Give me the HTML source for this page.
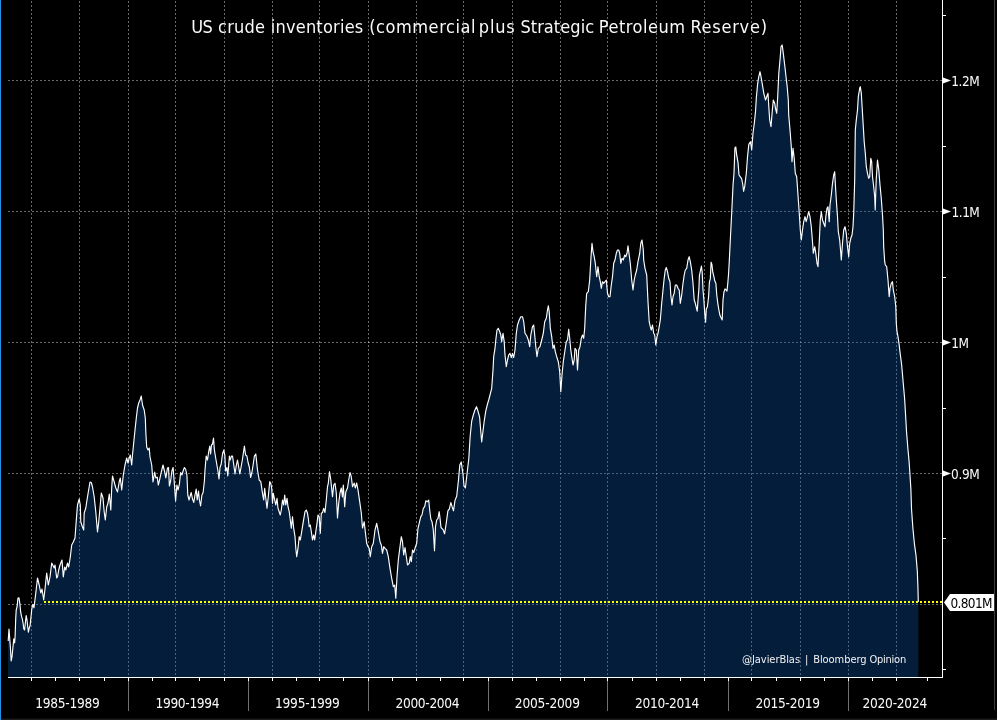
<!DOCTYPE html><html><head><meta charset="utf-8"><style>html,body{margin:0;padding:0;background:#000;width:997px;height:720px;overflow:hidden}svg{display:block}text{font-family:"DejaVu Sans Condensed","DejaVu Sans","Liberation Sans",sans-serif;font-stretch:condensed}</style></head><body>
<svg width="997" height="720" viewBox="0 0 997 720">
<rect width="997" height="720" fill="#000"/>
<g stroke="rgba(255,255,255,0.42)" stroke-width="1" stroke-dasharray="2 2"><line x1="8" y1="80.5" x2="942" y2="80.5"/><line x1="8" y1="211.5" x2="942" y2="211.5"/><line x1="8" y1="342.5" x2="942" y2="342.5"/><line x1="8" y1="473.5" x2="942" y2="473.5"/><line x1="8" y1="604.5" x2="942" y2="604.5"/><line x1="31.5" y1="1" x2="31.5" y2="677"/><line x1="79.5" y1="1" x2="79.5" y2="677"/><line x1="128.5" y1="1" x2="128.5" y2="677"/><line x1="175.5" y1="1" x2="175.5" y2="677"/><line x1="224.5" y1="1" x2="224.5" y2="677"/><line x1="272.5" y1="1" x2="272.5" y2="677"/><line x1="319.5" y1="1" x2="319.5" y2="677"/><line x1="368.5" y1="1" x2="368.5" y2="677"/><line x1="416.5" y1="1" x2="416.5" y2="677"/><line x1="463.5" y1="1" x2="463.5" y2="677"/><line x1="512.5" y1="1" x2="512.5" y2="677"/><line x1="560.5" y1="1" x2="560.5" y2="677"/><line x1="607.5" y1="1" x2="607.5" y2="677"/><line x1="656.5" y1="1" x2="656.5" y2="677"/><line x1="704.5" y1="1" x2="704.5" y2="677"/><line x1="751.5" y1="1" x2="751.5" y2="677"/><line x1="800.5" y1="1" x2="800.5" y2="677"/><line x1="848.5" y1="1" x2="848.5" y2="677"/><line x1="896.5" y1="1" x2="896.5" y2="677"/></g>
<path d="M8,677 L8,641 8.2,641 L9,629 L9.6,636.7 L10.4,647.8 L11.2,661 L12,656.7 L12.9,647.8 L13.8,638.9 L14.6,643 L15.1,636.7 L15.7,618.9 L16.2,610 L17.1,606.7 L17.9,598.3 L19,597.8 L19.8,603.3 L20.7,612.2 L21.6,616.7 L22.3,618.9 L23.1,623.3 L23.8,628.9 L24.6,630 L25.3,623.3 L26.2,615.6 L27,620 L27.6,625.6 L28.4,632.2 L29.3,627.8 L30.1,625.6 L30.9,617.8 L31.8,608.9 L32.9,604.4 L34,607.8 L35.8,593 L37.5,578 L39.2,585 L40.8,593 L42,589 L43.7,600 L45,589 L46.7,573 L48.3,585 L50,577 L51.7,563 L54.2,568 L55,565 L56.7,578 L57.5,577 L58.7,570 L60,565 L62,560 L63.3,577 L64.7,567 L65.8,570 L67.5,563 L68.7,567 L70.3,557 L71.7,545 L73.3,542 L75,538 L76.3,520 L77.5,505 L79.2,499 L80.3,505 L80.8,522 L82.5,527 L83.7,530 L84.2,513 L85.8,508 L87,500 L88.3,492 L90,482 L91.3,482.5 L92.5,487 L94.2,497 L95.8,512 L97.5,532 L98.7,522 L100,508 L101.3,493 L103,498 L104.2,512 L105.3,520 L106.7,507 L108,503 L109.3,494 L110.8,510 L111.7,488 L112.5,476 L114.2,482 L115.8,488 L117.5,492 L119.2,482 L120.3,478 L121.7,490 L123.3,475 L125,465 L126.7,458 L128,463 L129.2,458 L130.3,455 L131.7,465 L132.5,455 L133.7,443 L135,430 L136.3,418 L137.5,408 L138.7,403 L140,400 L141.3,396 L142.5,405 L144.2,410 L145.3,418 L145.8,432 L146.7,447 L148,450 L149.2,448 L150,457 L151.7,465 L153,482 L154.7,472 L155.8,478 L157.2,477 L158.3,485 L160,478 L161.3,472 L163,465 L164.7,472 L165.8,478 L167.5,468 L168.5,467.5 L169.4,486 L170.6,481 L171.9,471 L173.1,467.5 L174,479 L175.6,501 L176.9,485 L178.1,490 L179.4,484 L180.6,472.5 L181.9,475 L183.1,471 L184.4,467.5 L185.6,469 L186.9,475 L187.8,495 L189,500 L190.2,496 L191.2,492.5 L192.5,499 L193.8,502.5 L195,495 L196.2,489 L197.2,500 L198.5,491 L199.4,500 L200.6,506 L201.9,495 L203.1,492.5 L204.4,481 L205,470 L206.2,456 L207.5,460 L208.8,451 L209.8,446 L210.6,454 L211.5,445 L212.5,444 L213.5,438 L214.4,450 L215.6,457.5 L216.9,465 L217.8,470 L219,479 L220,467.5 L221.2,464 L222.5,454 L223.8,450 L224.8,455 L225.6,471 L226.9,467.5 L227.8,476 L228.5,467.5 L229.4,456 L230.2,460 L231.5,456 L232.5,456 L233.8,465 L235,474 L236.2,466 L237.5,460 L238.5,466 L239.8,474 L241,467.5 L242.5,459 L244.4,446 L245.6,455 L246.9,456 L248.1,462.5 L249.4,467.5 L250.6,477.5 L251.9,472.5 L253.1,465 L254.4,456 L255.8,454 L257.5,470 L259.2,480 L260.8,481.7 L262.5,493.3 L263.7,500 L264.7,488.3 L265.8,498.3 L267,508.3 L268.3,496.7 L269.7,481.7 L270.8,483.3 L271.7,488.3 L272.5,503.3 L273.3,493.3 L274.7,500 L275.8,505 L277,498.3 L278,508.3 L279.2,511.7 L280.3,515 L281.3,510 L282.5,500 L283.7,505 L284.7,495 L285.8,505 L287,498.3 L288,506.7 L289.2,511.7 L290.3,520 L291.3,528.3 L292.5,516.7 L293.7,528.3 L295,536.7 L295.8,548.3 L296.7,556.7 L298,548.3 L299.2,536.7 L300.3,540 L301.7,531.7 L303.3,521.7 L305,511.7 L306.3,510 L307.5,513.3 L308.3,518.3 L309.2,526.7 L310.3,525 L311.3,531.7 L312.5,540 L313.7,535 L314.7,540 L315.8,531.7 L317,523.3 L318,515 L319.2,516.7 L320.3,533.3 L321.3,513.3 L322.5,512.5 L323.7,508.3 L325,512.5 L326.3,500 L327.5,486.7 L328.3,483.3 L329.5,471.7 L330.8,480 L332.5,496.7 L333.7,485 L335,483.3 L336.3,493 L337.5,518 L338.7,503 L340,493 L341.3,488 L342.5,497 L343.3,485 L344.7,506.7 L345.8,491.7 L347.5,488 L348.7,480 L350,472.5 L351.3,476.7 L352.5,486.7 L354.2,483 L355.3,488 L356.7,483 L358,490 L359.7,501.7 L361.3,513 L362.5,528 L364.2,521.7 L365.3,531.7 L366.7,543.3 L368,546.7 L369.2,548.3 L370.3,556.7 L371.7,546.7 L373.3,543.3 L375,530 L376.7,523.3 L378.3,531.7 L380,541.7 L381.3,545 L382.5,553.3 L383.7,546.7 L385,548.3 L386.7,550 L388.3,556.7 L390,568.3 L391.7,578.3 L393.3,586.7 L394.7,585 L395.8,598.3 L397,576.7 L398.3,560 L400,546.7 L401.3,536.7 L402.5,541.7 L403.7,555 L405,547.5 L406.3,556.7 L407.5,565 L409.2,563.3 L410.3,556.7 L411.3,561.7 L412.5,550 L413.7,552.5 L415,548.3 L416.7,543.3 L418,528.3 L419.2,523.3 L420.8,516.7 L422,515 L423.3,508.3 L424.7,506.7 L425.8,500.8 L427.5,501.7 L428.7,500 L429.7,510 L430.8,519 L432,521.7 L433.3,530 L434.5,550.8 L435.5,526.7 L436.7,520 L438,518.3 L439.2,511.7 L440,518 L441,527.5 L443.1,529.6 L444.6,533.8 L446.2,523.3 L447.9,510.8 L449.4,508.8 L450.8,502.5 L452.1,506.7 L453.5,510.8 L455,500.4 L456.7,496.2 L458.3,481.7 L459.8,465 L461.2,461.9 L462.9,473.3 L464,485.8 L465.4,487.9 L467.1,473.3 L468.8,458.8 L470.2,435.8 L471.7,421.2 L473.3,415 L475,409.8 L476.5,406.7 L477.9,410.8 L479.6,417 L480.8,431.7 L481.7,442 L482.9,431.7 L484.2,421.2 L485.8,410.8 L487.5,404 L488.7,400 L490,395 L491.7,388.3 L493,370 L493.7,356.7 L495,348.3 L495.8,340 L497,330 L498.3,328.3 L499.7,331.7 L500.8,335 L501.7,341.7 L503,333.3 L504.2,341.7 L505,355 L506.3,366.7 L507.5,360 L508.7,355 L510,353.3 L511.3,357.5 L512.5,353.3 L513.7,357.5 L515,350 L516.3,333.3 L517.5,325 L519.2,320 L520.8,316.7 L522.5,316.7 L523.7,321.7 L525,333.3 L526.7,335.8 L528.3,340 L529.7,346.7 L530.8,335 L532.5,326.7 L533.7,325 L534.7,335 L535.8,346.7 L537,356.7 L538.3,348.3 L540,346.7 L541.7,340 L543.3,333.3 L544.7,321.7 L546.3,318.3 L547.5,310 L548.3,305.8 L549.2,311.7 L550.3,328.3 L551.7,336.7 L553,348.3 L554.2,345 L555.3,351.7 L556.7,356.7 L558.3,361.7 L559.7,371.7 L560.8,391.7 L562,375 L563.3,361.7 L565,350 L566.3,341.7 L567.5,340 L568.7,329.2 L569.7,338.3 L570.8,350 L572,358.3 L573,365 L574.2,360 L575,348.3 L576.3,350 L577.5,370 L578.7,350 L580,346.7 L581.3,338.3 L582.5,335 L583.7,338.3 L584.7,328.3 L585.3,315 L585.8,305 L586.7,293.3 L588.3,291.7 L589.7,280 L590.8,260 L592,243.3 L593,251.7 L594.2,256.7 L595.3,263.3 L596.7,276.7 L598,266.7 L599.2,276.7 L600.3,281.7 L601.3,288.3 L602.5,281.7 L603.7,283.3 L605,281.7 L606.3,280 L607.5,293.3 L608.7,296.7 L610,296.7 L611.3,285 L612.5,276.7 L613.7,263.3 L615,260 L616.3,253.3 L617.5,250 L618.7,250 L619.7,253.3 L620.8,263.3 L622,258.3 L623.3,260 L624.7,255 L625.8,256.7 L627,253.3 L628,245.8 L629.2,255 L630.3,263.3 L631.7,280 L633,290 L634.2,280 L635.3,275 L636.7,270 L638,261.7 L639.7,253.3 L640.8,243.3 L642,240 L643.3,250 L643.7,260 L645,268.3 L646.7,275 L648,301.7 L649.2,321.7 L650.3,326.7 L651.3,330 L652.5,325 L653.7,333.3 L654.7,335 L655.8,345 L657,336.7 L658,333.3 L659.2,326.7 L660.3,320 L661.7,303.3 L663,290 L664.2,278.3 L665.3,270 L666.3,267.5 L667.5,271.7 L668.7,278.3 L670,281.7 L670.8,295 L672,305 L673,296.7 L674.2,293.3 L675.3,285 L676.7,285 L678,288.3 L679.2,290 L680.3,303.3 L681.7,295 L683,283.3 L684.2,275 L685.3,270 L686.7,268.3 L688,260 L689.2,256.7 L690.3,261.7 L691.7,270 L693,283.3 L694.2,300 L695.3,303.3 L696.1,306.7 L697.2,311.1 L698.1,298.9 L698.9,288.9 L699.4,275.6 L700.6,270 L701.4,266.1 L702.2,272.2 L703,290 L703.9,300 L704.8,314.4 L705.6,322.2 L706.3,308.9 L707.4,306.7 L708.6,296.7 L709.4,282.2 L710.3,278.9 L711.1,262.2 L711.9,264.4 L712.8,272.2 L713.9,276.7 L714.8,281.1 L715.9,283.3 L716.7,294.4 L717.8,303.3 L718.9,310 L720,315.6 L721.1,317.8 L722.2,320 L723,300 L723.9,292.2 L725,288.9 L726.1,290 L727,291.1 L727.8,283.3 L728.6,273.3 L729.4,258.9 L730.4,238 L731.8,211 L733.1,184 L734,173.2 L734.9,148 L735.8,147 L736.7,155.2 L738,162.4 L739,175 L740.3,176.8 L741.6,178.6 L742.7,184 L743.6,191.3 L744.8,185.9 L746.3,173.2 L747.5,157 L748.8,144.4 L750.5,141.7 L751.7,150 L753,133.3 L754.3,123.3 L755.5,111.7 L756.3,98.3 L757.7,83.3 L758.8,76.7 L760,71.7 L761.3,78.3 L762.7,86.7 L763.8,93.3 L765.5,100 L766.7,96.7 L768,93.3 L768.8,106.7 L769.7,120 L771,126.7 L772.2,111.7 L773.3,100 L774.7,103.3 L775.5,108.3 L776.7,113.3 L777.7,96.7 L778.8,73.3 L780,60 L781,46.7 L782.2,45 L783.3,53.3 L784.7,65 L786,76.7 L787.2,86.7 L788.3,100 L788.7,115 L790,130 L791.3,146.7 L792,161.7 L793,148.3 L794.2,158.3 L795.3,173.3 L796.7,176.7 L797.5,188 L798.7,205 L799.7,220 L800.3,230 L801.3,240 L802.5,230 L803.7,221.7 L805,216.7 L806.2,221.7 L807.5,216.7 L808.7,211.7 L810,216.7 L811.3,226.7 L812.5,241.7 L813.3,253.3 L814.7,246.7 L815.8,253.3 L817,263.3 L818,266.7 L819.2,243.3 L820.3,220 L821.3,211.7 L822.5,220 L823.7,223.3 L825,226.7 L825.8,216.7 L827,208.3 L828,206.7 L829.2,221.7 L830,205 L831.3,195 L832.5,183.3 L833.7,175 L834.7,171.7 L835.3,183.3 L836.3,200 L837.5,216.7 L838.3,231.7 L839.7,240 L840.8,253.3 L841.3,260 L842.5,243.3 L843.7,230 L845,226.7 L846.3,233.3 L847.5,246.7 L848.7,256.7 L849.7,243.3 L850.8,238.3 L852,235 L853,226.7 L853.7,213.3 L854.2,196.7 L854.7,180 L855.3,130 L856.3,120 L857.5,110 L858.3,96.7 L859.7,88.3 L860.3,86.7 L861.3,93.3 L862,105 L863,121.7 L864.2,141.7 L865.3,153.3 L866.3,166.7 L867.5,173.3 L868.7,178.3 L869.7,176.7 L870.8,158.3 L871.7,161.7 L872.5,176.7 L873.7,186.7 L874.7,196.7 L875.2,210 L876.2,180 L877.5,160 L878.8,170 L880,185 L881.2,197.5 L882.5,215 L883.3,230 L883.7,246.7 L884.7,261.7 L885.3,265 L886.7,266.7 L888,280 L889.2,296.7 L890,288.3 L891.3,283.3 L892.5,281.7 L893.3,290 L894.7,296.7 L895.8,306.7 L896.3,323.3 L897,331.7 L898,336.7 L899.2,345 L899.7,349.7 L901.7,365.2 L903.2,382.7 L904.6,398.3 L905.5,413.8 L906.5,431.3 L907.9,448.7 L909,460.4 L909.8,472 L910.1,476.8 L910.9,489.4 L911.5,508.8 L912.9,528.3 L914.4,543.8 L916,555.4 L917.3,571 L917.9,586.5 L918.3,602 L918.3,677 Z" fill="rgba(9,83,169,0.35)"/>
<line x1="44" y1="602" x2="942" y2="602" stroke="#ffff00" stroke-width="2" stroke-dasharray="2 2"/>
<path d="M8.2,641 L9,629 L9.6,636.7 L10.4,647.8 L11.2,661 L12,656.7 L12.9,647.8 L13.8,638.9 L14.6,643 L15.1,636.7 L15.7,618.9 L16.2,610 L17.1,606.7 L17.9,598.3 L19,597.8 L19.8,603.3 L20.7,612.2 L21.6,616.7 L22.3,618.9 L23.1,623.3 L23.8,628.9 L24.6,630 L25.3,623.3 L26.2,615.6 L27,620 L27.6,625.6 L28.4,632.2 L29.3,627.8 L30.1,625.6 L30.9,617.8 L31.8,608.9 L32.9,604.4 L34,607.8 L35.8,593 L37.5,578 L39.2,585 L40.8,593 L42,589 L43.7,600 L45,589 L46.7,573 L48.3,585 L50,577 L51.7,563 L54.2,568 L55,565 L56.7,578 L57.5,577 L58.7,570 L60,565 L62,560 L63.3,577 L64.7,567 L65.8,570 L67.5,563 L68.7,567 L70.3,557 L71.7,545 L73.3,542 L75,538 L76.3,520 L77.5,505 L79.2,499 L80.3,505 L80.8,522 L82.5,527 L83.7,530 L84.2,513 L85.8,508 L87,500 L88.3,492 L90,482 L91.3,482.5 L92.5,487 L94.2,497 L95.8,512 L97.5,532 L98.7,522 L100,508 L101.3,493 L103,498 L104.2,512 L105.3,520 L106.7,507 L108,503 L109.3,494 L110.8,510 L111.7,488 L112.5,476 L114.2,482 L115.8,488 L117.5,492 L119.2,482 L120.3,478 L121.7,490 L123.3,475 L125,465 L126.7,458 L128,463 L129.2,458 L130.3,455 L131.7,465 L132.5,455 L133.7,443 L135,430 L136.3,418 L137.5,408 L138.7,403 L140,400 L141.3,396 L142.5,405 L144.2,410 L145.3,418 L145.8,432 L146.7,447 L148,450 L149.2,448 L150,457 L151.7,465 L153,482 L154.7,472 L155.8,478 L157.2,477 L158.3,485 L160,478 L161.3,472 L163,465 L164.7,472 L165.8,478 L167.5,468 L168.5,467.5 L169.4,486 L170.6,481 L171.9,471 L173.1,467.5 L174,479 L175.6,501 L176.9,485 L178.1,490 L179.4,484 L180.6,472.5 L181.9,475 L183.1,471 L184.4,467.5 L185.6,469 L186.9,475 L187.8,495 L189,500 L190.2,496 L191.2,492.5 L192.5,499 L193.8,502.5 L195,495 L196.2,489 L197.2,500 L198.5,491 L199.4,500 L200.6,506 L201.9,495 L203.1,492.5 L204.4,481 L205,470 L206.2,456 L207.5,460 L208.8,451 L209.8,446 L210.6,454 L211.5,445 L212.5,444 L213.5,438 L214.4,450 L215.6,457.5 L216.9,465 L217.8,470 L219,479 L220,467.5 L221.2,464 L222.5,454 L223.8,450 L224.8,455 L225.6,471 L226.9,467.5 L227.8,476 L228.5,467.5 L229.4,456 L230.2,460 L231.5,456 L232.5,456 L233.8,465 L235,474 L236.2,466 L237.5,460 L238.5,466 L239.8,474 L241,467.5 L242.5,459 L244.4,446 L245.6,455 L246.9,456 L248.1,462.5 L249.4,467.5 L250.6,477.5 L251.9,472.5 L253.1,465 L254.4,456 L255.8,454 L257.5,470 L259.2,480 L260.8,481.7 L262.5,493.3 L263.7,500 L264.7,488.3 L265.8,498.3 L267,508.3 L268.3,496.7 L269.7,481.7 L270.8,483.3 L271.7,488.3 L272.5,503.3 L273.3,493.3 L274.7,500 L275.8,505 L277,498.3 L278,508.3 L279.2,511.7 L280.3,515 L281.3,510 L282.5,500 L283.7,505 L284.7,495 L285.8,505 L287,498.3 L288,506.7 L289.2,511.7 L290.3,520 L291.3,528.3 L292.5,516.7 L293.7,528.3 L295,536.7 L295.8,548.3 L296.7,556.7 L298,548.3 L299.2,536.7 L300.3,540 L301.7,531.7 L303.3,521.7 L305,511.7 L306.3,510 L307.5,513.3 L308.3,518.3 L309.2,526.7 L310.3,525 L311.3,531.7 L312.5,540 L313.7,535 L314.7,540 L315.8,531.7 L317,523.3 L318,515 L319.2,516.7 L320.3,533.3 L321.3,513.3 L322.5,512.5 L323.7,508.3 L325,512.5 L326.3,500 L327.5,486.7 L328.3,483.3 L329.5,471.7 L330.8,480 L332.5,496.7 L333.7,485 L335,483.3 L336.3,493 L337.5,518 L338.7,503 L340,493 L341.3,488 L342.5,497 L343.3,485 L344.7,506.7 L345.8,491.7 L347.5,488 L348.7,480 L350,472.5 L351.3,476.7 L352.5,486.7 L354.2,483 L355.3,488 L356.7,483 L358,490 L359.7,501.7 L361.3,513 L362.5,528 L364.2,521.7 L365.3,531.7 L366.7,543.3 L368,546.7 L369.2,548.3 L370.3,556.7 L371.7,546.7 L373.3,543.3 L375,530 L376.7,523.3 L378.3,531.7 L380,541.7 L381.3,545 L382.5,553.3 L383.7,546.7 L385,548.3 L386.7,550 L388.3,556.7 L390,568.3 L391.7,578.3 L393.3,586.7 L394.7,585 L395.8,598.3 L397,576.7 L398.3,560 L400,546.7 L401.3,536.7 L402.5,541.7 L403.7,555 L405,547.5 L406.3,556.7 L407.5,565 L409.2,563.3 L410.3,556.7 L411.3,561.7 L412.5,550 L413.7,552.5 L415,548.3 L416.7,543.3 L418,528.3 L419.2,523.3 L420.8,516.7 L422,515 L423.3,508.3 L424.7,506.7 L425.8,500.8 L427.5,501.7 L428.7,500 L429.7,510 L430.8,519 L432,521.7 L433.3,530 L434.5,550.8 L435.5,526.7 L436.7,520 L438,518.3 L439.2,511.7 L440,518 L441,527.5 L443.1,529.6 L444.6,533.8 L446.2,523.3 L447.9,510.8 L449.4,508.8 L450.8,502.5 L452.1,506.7 L453.5,510.8 L455,500.4 L456.7,496.2 L458.3,481.7 L459.8,465 L461.2,461.9 L462.9,473.3 L464,485.8 L465.4,487.9 L467.1,473.3 L468.8,458.8 L470.2,435.8 L471.7,421.2 L473.3,415 L475,409.8 L476.5,406.7 L477.9,410.8 L479.6,417 L480.8,431.7 L481.7,442 L482.9,431.7 L484.2,421.2 L485.8,410.8 L487.5,404 L488.7,400 L490,395 L491.7,388.3 L493,370 L493.7,356.7 L495,348.3 L495.8,340 L497,330 L498.3,328.3 L499.7,331.7 L500.8,335 L501.7,341.7 L503,333.3 L504.2,341.7 L505,355 L506.3,366.7 L507.5,360 L508.7,355 L510,353.3 L511.3,357.5 L512.5,353.3 L513.7,357.5 L515,350 L516.3,333.3 L517.5,325 L519.2,320 L520.8,316.7 L522.5,316.7 L523.7,321.7 L525,333.3 L526.7,335.8 L528.3,340 L529.7,346.7 L530.8,335 L532.5,326.7 L533.7,325 L534.7,335 L535.8,346.7 L537,356.7 L538.3,348.3 L540,346.7 L541.7,340 L543.3,333.3 L544.7,321.7 L546.3,318.3 L547.5,310 L548.3,305.8 L549.2,311.7 L550.3,328.3 L551.7,336.7 L553,348.3 L554.2,345 L555.3,351.7 L556.7,356.7 L558.3,361.7 L559.7,371.7 L560.8,391.7 L562,375 L563.3,361.7 L565,350 L566.3,341.7 L567.5,340 L568.7,329.2 L569.7,338.3 L570.8,350 L572,358.3 L573,365 L574.2,360 L575,348.3 L576.3,350 L577.5,370 L578.7,350 L580,346.7 L581.3,338.3 L582.5,335 L583.7,338.3 L584.7,328.3 L585.3,315 L585.8,305 L586.7,293.3 L588.3,291.7 L589.7,280 L590.8,260 L592,243.3 L593,251.7 L594.2,256.7 L595.3,263.3 L596.7,276.7 L598,266.7 L599.2,276.7 L600.3,281.7 L601.3,288.3 L602.5,281.7 L603.7,283.3 L605,281.7 L606.3,280 L607.5,293.3 L608.7,296.7 L610,296.7 L611.3,285 L612.5,276.7 L613.7,263.3 L615,260 L616.3,253.3 L617.5,250 L618.7,250 L619.7,253.3 L620.8,263.3 L622,258.3 L623.3,260 L624.7,255 L625.8,256.7 L627,253.3 L628,245.8 L629.2,255 L630.3,263.3 L631.7,280 L633,290 L634.2,280 L635.3,275 L636.7,270 L638,261.7 L639.7,253.3 L640.8,243.3 L642,240 L643.3,250 L643.7,260 L645,268.3 L646.7,275 L648,301.7 L649.2,321.7 L650.3,326.7 L651.3,330 L652.5,325 L653.7,333.3 L654.7,335 L655.8,345 L657,336.7 L658,333.3 L659.2,326.7 L660.3,320 L661.7,303.3 L663,290 L664.2,278.3 L665.3,270 L666.3,267.5 L667.5,271.7 L668.7,278.3 L670,281.7 L670.8,295 L672,305 L673,296.7 L674.2,293.3 L675.3,285 L676.7,285 L678,288.3 L679.2,290 L680.3,303.3 L681.7,295 L683,283.3 L684.2,275 L685.3,270 L686.7,268.3 L688,260 L689.2,256.7 L690.3,261.7 L691.7,270 L693,283.3 L694.2,300 L695.3,303.3 L696.1,306.7 L697.2,311.1 L698.1,298.9 L698.9,288.9 L699.4,275.6 L700.6,270 L701.4,266.1 L702.2,272.2 L703,290 L703.9,300 L704.8,314.4 L705.6,322.2 L706.3,308.9 L707.4,306.7 L708.6,296.7 L709.4,282.2 L710.3,278.9 L711.1,262.2 L711.9,264.4 L712.8,272.2 L713.9,276.7 L714.8,281.1 L715.9,283.3 L716.7,294.4 L717.8,303.3 L718.9,310 L720,315.6 L721.1,317.8 L722.2,320 L723,300 L723.9,292.2 L725,288.9 L726.1,290 L727,291.1 L727.8,283.3 L728.6,273.3 L729.4,258.9 L730.4,238 L731.8,211 L733.1,184 L734,173.2 L734.9,148 L735.8,147 L736.7,155.2 L738,162.4 L739,175 L740.3,176.8 L741.6,178.6 L742.7,184 L743.6,191.3 L744.8,185.9 L746.3,173.2 L747.5,157 L748.8,144.4 L750.5,141.7 L751.7,150 L753,133.3 L754.3,123.3 L755.5,111.7 L756.3,98.3 L757.7,83.3 L758.8,76.7 L760,71.7 L761.3,78.3 L762.7,86.7 L763.8,93.3 L765.5,100 L766.7,96.7 L768,93.3 L768.8,106.7 L769.7,120 L771,126.7 L772.2,111.7 L773.3,100 L774.7,103.3 L775.5,108.3 L776.7,113.3 L777.7,96.7 L778.8,73.3 L780,60 L781,46.7 L782.2,45 L783.3,53.3 L784.7,65 L786,76.7 L787.2,86.7 L788.3,100 L788.7,115 L790,130 L791.3,146.7 L792,161.7 L793,148.3 L794.2,158.3 L795.3,173.3 L796.7,176.7 L797.5,188 L798.7,205 L799.7,220 L800.3,230 L801.3,240 L802.5,230 L803.7,221.7 L805,216.7 L806.2,221.7 L807.5,216.7 L808.7,211.7 L810,216.7 L811.3,226.7 L812.5,241.7 L813.3,253.3 L814.7,246.7 L815.8,253.3 L817,263.3 L818,266.7 L819.2,243.3 L820.3,220 L821.3,211.7 L822.5,220 L823.7,223.3 L825,226.7 L825.8,216.7 L827,208.3 L828,206.7 L829.2,221.7 L830,205 L831.3,195 L832.5,183.3 L833.7,175 L834.7,171.7 L835.3,183.3 L836.3,200 L837.5,216.7 L838.3,231.7 L839.7,240 L840.8,253.3 L841.3,260 L842.5,243.3 L843.7,230 L845,226.7 L846.3,233.3 L847.5,246.7 L848.7,256.7 L849.7,243.3 L850.8,238.3 L852,235 L853,226.7 L853.7,213.3 L854.2,196.7 L854.7,180 L855.3,130 L856.3,120 L857.5,110 L858.3,96.7 L859.7,88.3 L860.3,86.7 L861.3,93.3 L862,105 L863,121.7 L864.2,141.7 L865.3,153.3 L866.3,166.7 L867.5,173.3 L868.7,178.3 L869.7,176.7 L870.8,158.3 L871.7,161.7 L872.5,176.7 L873.7,186.7 L874.7,196.7 L875.2,210 L876.2,180 L877.5,160 L878.8,170 L880,185 L881.2,197.5 L882.5,215 L883.3,230 L883.7,246.7 L884.7,261.7 L885.3,265 L886.7,266.7 L888,280 L889.2,296.7 L890,288.3 L891.3,283.3 L892.5,281.7 L893.3,290 L894.7,296.7 L895.8,306.7 L896.3,323.3 L897,331.7 L898,336.7 L899.2,345 L899.7,349.7 L901.7,365.2 L903.2,382.7 L904.6,398.3 L905.5,413.8 L906.5,431.3 L907.9,448.7 L909,460.4 L909.8,472 L910.1,476.8 L910.9,489.4 L911.5,508.8 L912.9,528.3 L914.4,543.8 L916,555.4 L917.3,571 L917.9,586.5 L918.3,602" fill="none" stroke="#fff" stroke-width="1.15" stroke-linejoin="round"/>
<rect x="8" y="677" width="935" height="1" fill="#fff"/>
<rect x="942" y="0" width="1" height="678" fill="#fff"/>
<g fill="#fff"><rect x="31" y="678" width="1" height="3"/><rect x="55" y="678" width="1" height="3"/><rect x="79" y="678" width="1" height="3"/><rect x="104" y="678" width="1" height="3"/><rect x="128" y="678" width="1" height="3"/><rect x="152" y="678" width="1" height="3"/><rect x="175" y="678" width="1" height="3"/><rect x="199" y="678" width="1" height="3"/><rect x="224" y="678" width="1" height="3"/><rect x="248" y="678" width="1" height="3"/><rect x="272" y="678" width="1" height="3"/><rect x="296" y="678" width="1" height="3"/><rect x="319" y="678" width="1" height="3"/><rect x="343" y="678" width="1" height="3"/><rect x="368" y="678" width="1" height="3"/><rect x="392" y="678" width="1" height="3"/><rect x="416" y="678" width="1" height="3"/><rect x="440" y="678" width="1" height="3"/><rect x="463" y="678" width="1" height="3"/><rect x="488" y="678" width="1" height="3"/><rect x="512" y="678" width="1" height="3"/><rect x="536" y="678" width="1" height="3"/><rect x="560" y="678" width="1" height="3"/><rect x="584" y="678" width="1" height="3"/><rect x="607" y="678" width="1" height="3"/><rect x="632" y="678" width="1" height="3"/><rect x="656" y="678" width="1" height="3"/><rect x="680" y="678" width="1" height="3"/><rect x="704" y="678" width="1" height="3"/><rect x="728" y="678" width="1" height="3"/><rect x="751" y="678" width="1" height="3"/><rect x="776" y="678" width="1" height="3"/><rect x="800" y="678" width="1" height="3"/><rect x="824" y="678" width="1" height="3"/><rect x="848" y="678" width="1" height="3"/><rect x="872" y="678" width="1" height="3"/><rect x="896" y="678" width="1" height="3"/><rect x="927" y="678" width="1" height="3"/></g>
<g fill="#707070"><rect x="128" y="681" width="1" height="30"/><rect x="248" y="681" width="1" height="30"/><rect x="368" y="681" width="1" height="30"/><rect x="488" y="681" width="1" height="30"/><rect x="607" y="681" width="1" height="30"/><rect x="728" y="681" width="1" height="30"/><rect x="848" y="681" width="1" height="30"/></g>
<g fill="#fff"><rect x="943" y="15" width="3" height="1"/><rect x="943" y="146" width="3" height="1"/><rect x="943" y="277" width="3" height="1"/><rect x="943" y="408" width="3" height="1"/><rect x="943" y="538" width="3" height="1"/><rect x="943" y="669" width="3" height="1"/></g>
<polygon points="943,77.5 951,80.5 943,83.5" fill="#fff"/>
<polygon points="943,208.5 951,211.5 943,214.5" fill="#fff"/>
<polygon points="943,339.5 951,342.5 943,345.5" fill="#fff"/>
<polygon points="943,470.5 951,473.5 943,476.5" fill="#fff"/>
<polygon points="944,602.5 950,594 994,594 994,611 950,611" fill="#fff"/>
<rect x="994" y="0" width="1" height="710" fill="#3c3c3c"/>
<rect x="0" y="718" width="997" height="1" fill="#0c0c0c"/><rect x="0" y="719" width="997" height="1" fill="#1c1c1c"/>
<rect x="0" y="0" width="1" height="720" fill="#2191e8"/>
<text x="191.35" y="33" font-size="18" fill="#fafafa" textLength="21.51" lengthAdjust="spacing">US</text>
<text x="218.00" y="33" font-size="18" fill="#fafafa" textLength="47.00" lengthAdjust="spacing">crude</text>
<text x="270.71" y="33" font-size="18" fill="#fafafa" textLength="92.55" lengthAdjust="spacing">inventories</text>
<text x="369.13" y="33" font-size="18" fill="#fafafa" textLength="106.34" lengthAdjust="spacing">(commercial</text>
<text x="478.83" y="33" font-size="18" fill="#fafafa" textLength="35.79" lengthAdjust="spacing">plus</text>
<text x="520.41" y="33" font-size="18" fill="#fafafa" textLength="73.67" lengthAdjust="spacing">Strategic</text>
<text x="598.82" y="33" font-size="18" fill="#fafafa" textLength="86.10" lengthAdjust="spacing">Petroleum</text>
<text x="690.39" y="33" font-size="18" fill="#fafafa" textLength="76.59" lengthAdjust="spacing">Reserve)</text>
<text x="35.14" y="708" font-size="13.6" fill="#fafafa" textLength="64.66" lengthAdjust="spacing">1985-1989</text>
<text x="155.53" y="708" font-size="13.6" fill="#fafafa" textLength="64.00" lengthAdjust="spacing">1990-1994</text>
<text x="274.96" y="708" font-size="13.6" fill="#fafafa" textLength="64.90" lengthAdjust="spacing">1995-1999</text>
<text x="395.53" y="708" font-size="13.6" fill="#fafafa" textLength="64.00" lengthAdjust="spacing">2000-2004</text>
<text x="514.82" y="708" font-size="13.6" fill="#fafafa" textLength="65.09" lengthAdjust="spacing">2005-2009</text>
<text x="635.00" y="708" font-size="13.6" fill="#fafafa" textLength="64.28" lengthAdjust="spacing">2010-2014</text>
<text x="755.53" y="708" font-size="13.6" fill="#fafafa" textLength="64.47" lengthAdjust="spacing">2015-2019</text>
<text x="862.45" y="708" font-size="13.6" fill="#fafafa" textLength="64.78" lengthAdjust="spacing">2020-2024</text>
<text x="951.24" y="86" font-size="13.5" fill="#fafafa" textLength="28.60" lengthAdjust="spacing">1.2M</text>
<text x="951.61" y="217" font-size="13.5" fill="#fafafa" textLength="28.23" lengthAdjust="spacing">1.1M</text>
<text x="951.24" y="348" font-size="13.5" fill="#fafafa" textLength="17.73" lengthAdjust="spacing">1M</text>
<text x="951.00" y="479" font-size="13.5" fill="#fafafa" textLength="28.84" lengthAdjust="spacing">0.9M</text>
<text x="950.45" y="608" font-size="13.5" fill="#000" textLength="42.08" lengthAdjust="spacing">0.801M</text>
<text x="742.11" y="663" font-size="11" fill="#f2f2f2" textLength="57.93" lengthAdjust="spacing">@JavierBlas</text>
<text x="805.02" y="663" font-size="11" fill="#f2f2f2">|</text>
<text x="813.23" y="663" font-size="11" fill="#f2f2f2" textLength="53.27" lengthAdjust="spacing">Bloomberg</text>
<text x="869.55" y="663" font-size="11" fill="#f2f2f2" textLength="36.61" lengthAdjust="spacing">Opinion</text>
</svg></body></html>
